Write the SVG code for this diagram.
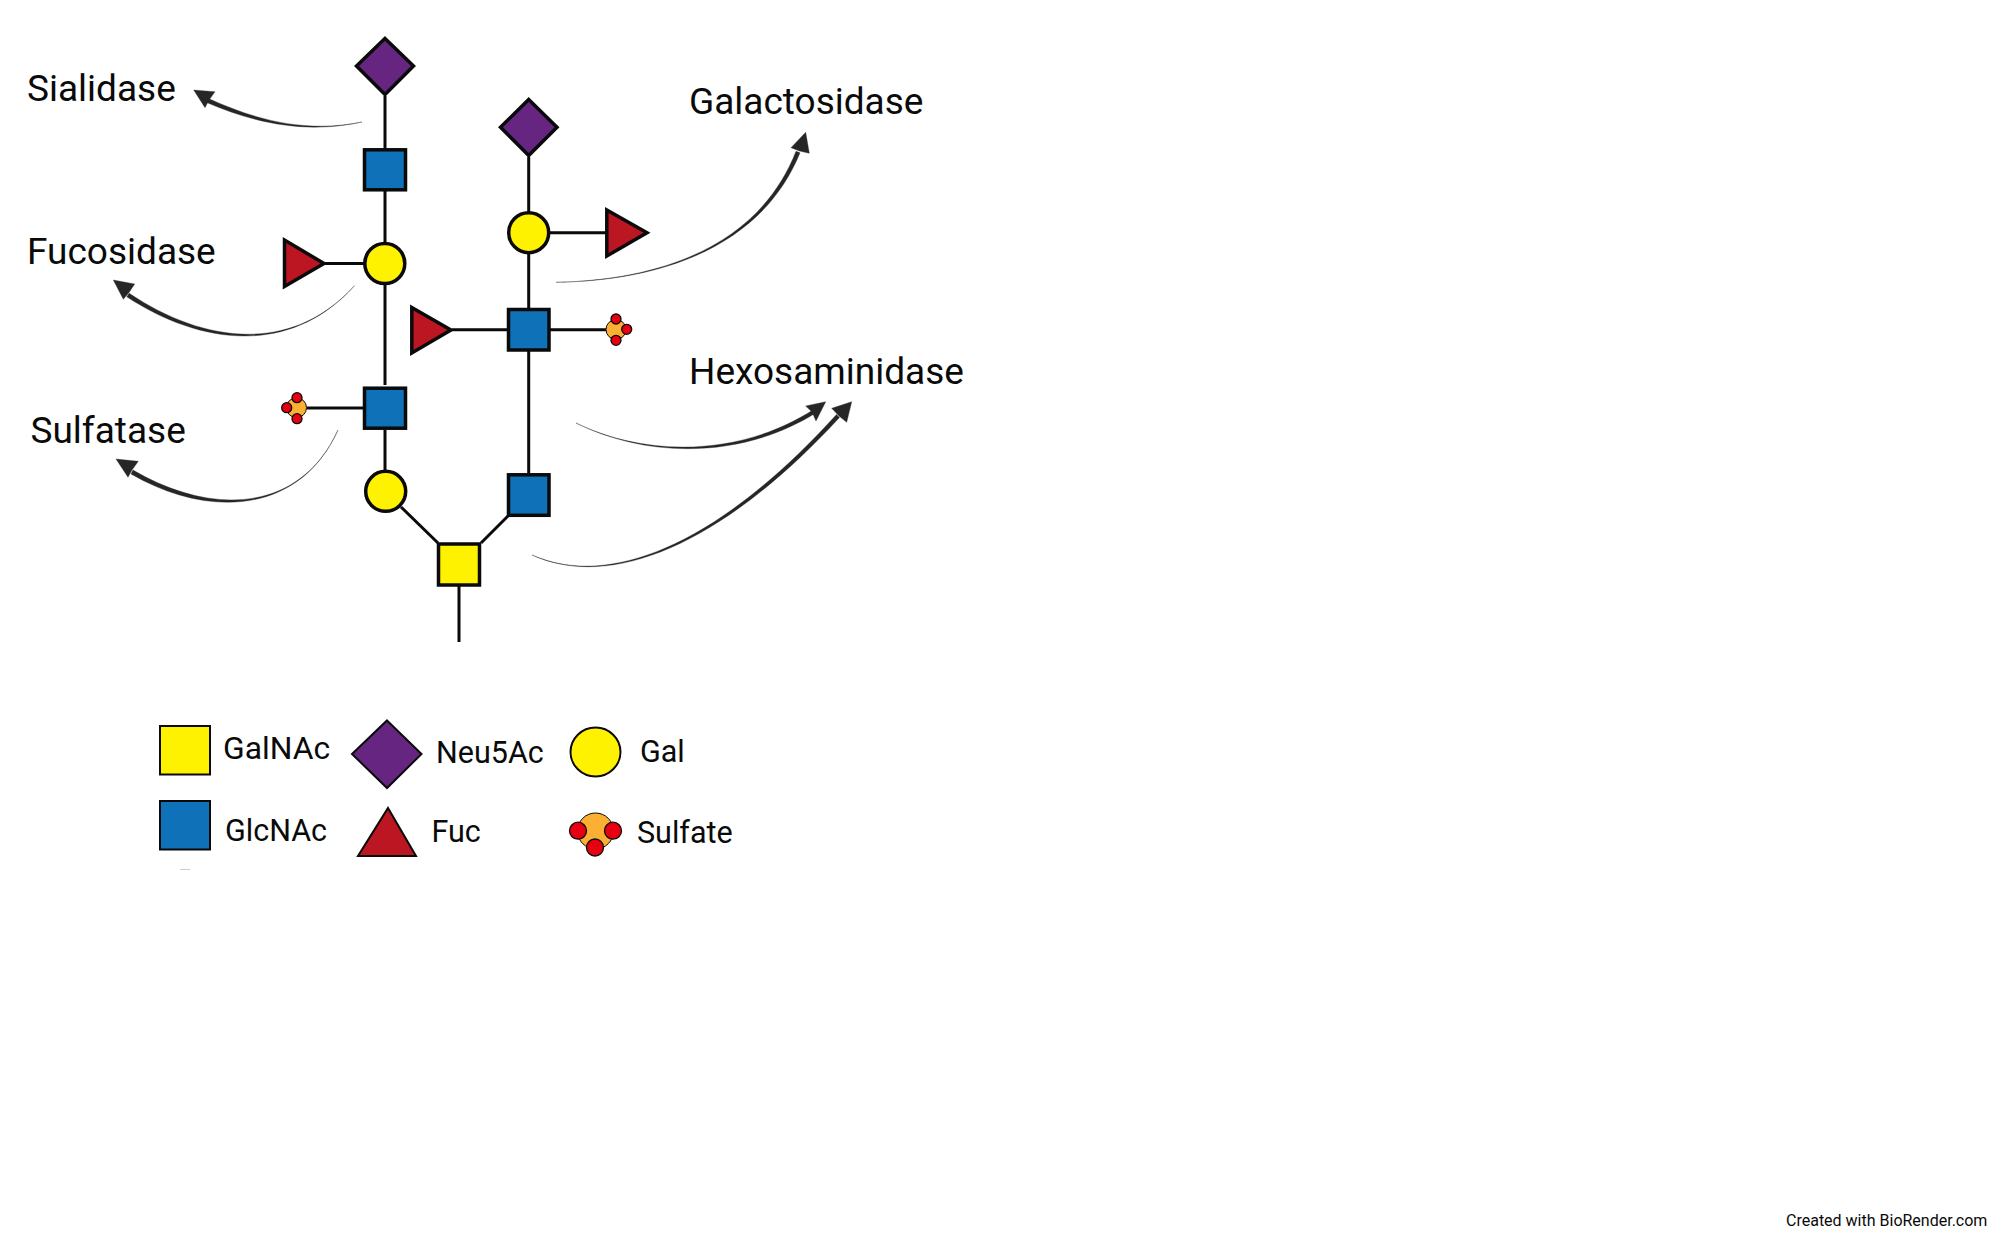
<svg xmlns="http://www.w3.org/2000/svg" width="2000" height="1237" viewBox="0 0 2000 1237">
<style>
text{font-family:Roboto,"Liberation Sans",sans-serif;fill:#0a0a0a}
.big{font-size:37px}
.leg{font-size:30.500px}
.gn{fill:#fff200}
.bl{fill:#0f71b8}
.pu{fill:#652581}
.rd{fill:#bc1622}
.s{stroke:#0a0a0a;stroke-width:3.500}
.t{stroke:#0a0a0a;stroke-width:2}
.or{fill:#fbb034;stroke:#0a0a0a;stroke-width:1}
.ox{fill:#e60012;stroke:#0a0a0a;stroke-width:1.300}
.link{stroke:#0a0a0a;stroke-width:3;fill:none}
.arr{fill:#262626;stroke:#262626;stroke-width:.35}
</style>
<rect width="2000" height="1237" fill="#fff"/>
<g id="connectors">
<path class="link" d="M385 96V385M385 263.500H325M385 408H307M385 430V470M401 507L438 543M481 543L508 516M459 586V642M528.700 157V473M528.700 232.700H606M529 329.700H452M529 329.700H606"/>
<path class="arr" d="M362 122C310 132.500 260.600 122.600 207.500 98L205.500 102C259.400 125.400 310 133.500 362 122Z"/>
<polygon class="arr" points="193.700,90 215,91.700 209,100 205,107.700"/>
<path class="arr" d="M354.500 285.700C290 356.500 200.800 341.600 129.200 293.200L126.800 296.800C199.200 344.400 290 357.500 354.500 285.700Z"/>
<polygon class="arr" points="113.300,280 134.700,284 129,292.500 123.300,299.300"/>
<path class="arr" d="M338 430C300 513.500 211 516 133 470L131 474C209 519 300 514.500 338 430Z"/>
<polygon class="arr" points="116,459 138.300,461.300 132,470 128,477.300"/>
<path class="arr" d="M556 282.300C680 279.500 763.500 234.400 796 151.200L800 152.800C766.500 235.600 680 280.500 556 282.300Z"/>
<polygon class="arr" points="805.700,132.300 809.300,153.300 799.500,151 791,147.700"/>
<path class="arr" d="M576 423C645 456.500 739.200 457.700 814 409.300L816 412.700C740.800 460.300 645 457.500 576 423Z"/>
<polygon class="arr" points="825.700,401.700 816,421 812,412 805.700,406"/>
<path class="arr" d="M532 555C610 589.500 719 544 836.500 414.500L839.500 417.500C721 546 610 590.500 532 555Z"/>
<polygon class="arr" points="851.700,401.700 846.700,422.300 839,416 831.700,408.300"/>
</g>
<g id="n-neu-a"><polygon class="pu s" points="385,38.500 413.500,66 385,94.500 356.500,66"/></g>
<g id="n-glc-a"><rect class="bl s" x="364.500" y="149.800" width="41" height="40"/></g>
<g id="n-gal-a"><circle class="gn s" cx="384.800" cy="263.500" r="20"/></g>
<g id="n-fuc-a"><polygon class="rd s" points="284.500,240 284.500,286.500 324,263.500"/></g>
<g id="n-glc-b"><rect class="bl s" x="364.500" y="388.200" width="41" height="40"/></g>
<g id="n-sul-a"><circle class="or" cx="296.500" cy="407.700" r="10"/><circle class="ox" cx="297" cy="397.700" r="5"/><circle class="ox" cx="286.700" cy="407.700" r="5"/><circle class="ox" cx="297" cy="418.700" r="5"/></g>
<g id="n-gal-b"><circle class="gn s" cx="385.700" cy="491.300" r="20"/></g>
<g id="n-gan"><rect class="gn s" x="438.500" y="544" width="41" height="41"/></g>
<g id="n-neu-b"><polygon class="pu s" points="528.700,99.500 557,127.200 528.700,155.500 500.500,127.200"/></g>
<g id="n-gal-c"><circle class="gn s" cx="528.700" cy="232.700" r="20"/></g>
<g id="n-fuc-b"><polygon class="rd s" points="606.800,210 606.800,256 647,232.700"/></g>
<g id="n-fuc-c"><polygon class="rd s" points="411.800,307.500 411.800,353 451,330"/></g>
<g id="n-glc-c"><rect class="bl s" x="508.500" y="309.500" width="40.500" height="40.500"/></g>
<g id="n-sul-b"><circle class="or" cx="616" cy="329.500" r="10"/><circle class="ox" cx="616" cy="319" r="5"/><circle class="ox" cx="626.700" cy="329.300" r="5"/><circle class="ox" cx="616" cy="340.300" r="5"/></g>
<g id="n-glc-d"><rect class="bl s" x="508.500" y="474.800" width="40.500" height="40.500"/></g>
<g id="labels">
<text class="big" x="27" y="101">Sialidase</text>
<text class="big" x="27" y="264.300">Fucosidase</text>
<text class="big" x="30.500" y="443.300">Sulfatase</text>
<text class="big" x="689" y="113.700">Galactosidase</text>
<text class="big" x="689" y="384.300">Hexosaminidase</text>
</g>
<g id="legend">
<g id="l-galnac"><rect class="gn t" x="160" y="726" width="50" height="48.500"/><text class="leg" x="223" y="758.800" style="font-size:31.800px">GalNAc</text></g>
<g id="l-neu5ac"><polygon class="pu t" points="387,720.500 421.500,754 387,788 352,754"/><text class="leg" x="436" y="762.500">Neu5Ac</text></g>
<g id="l-gal"><ellipse class="gn t" cx="595.500" cy="752" rx="25" ry="24.500"/><text class="leg" x="640" y="761.700">Gal</text></g>
<g id="l-glcnac"><rect class="bl t" x="160" y="801" width="50" height="48.500"/><text class="leg" x="225" y="840.500">GlcNAc</text></g>
<g id="l-fuc"><polygon class="rd t" points="388,808 416,856 358,856"/><text class="leg" x="431.500" y="842">Fuc</text></g>
<g id="l-sulfate"><circle class="or" cx="595.500" cy="831" r="18"/><ellipse class="ox" cx="578" cy="830.700" rx="8.500" ry="8.500"/><ellipse class="ox" cx="613" cy="830.700" rx="8.500" ry="8.500"/><ellipse class="ox" cx="595" cy="847.500" rx="8.500" ry="8.500"/><text class="leg" x="637" y="843">Sulfate</text></g>
<rect x="180" y="869" width="10" height="1" fill="#ccc"/>
</g>
<text x="1786" y="1226" font-size="16">Created with BioRender.com</text>
</svg>
